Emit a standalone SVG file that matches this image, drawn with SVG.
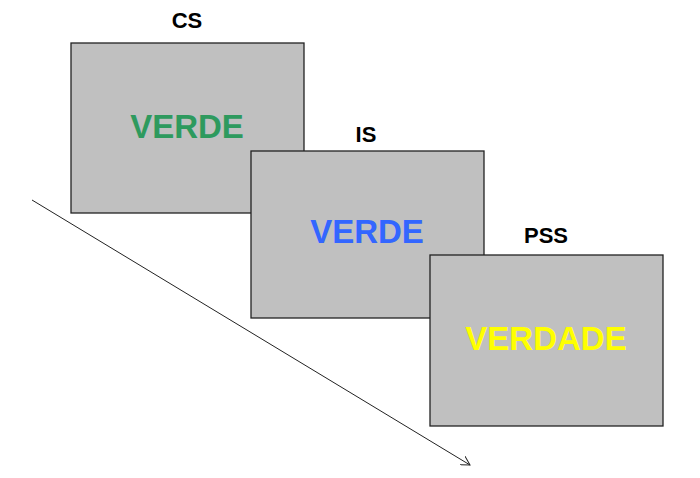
<svg xmlns="http://www.w3.org/2000/svg" width="700" height="478" viewBox="0 0 700 478">
<defs>
<style>
.box{fill:#c0c0c0;stroke:#222;stroke-width:1.3}
.lbl{font-family:"Liberation Sans",Arial,sans-serif;font-weight:bold;font-size:22px;fill:#000;text-anchor:middle}
.word{font-family:"Liberation Sans",Arial,sans-serif;font-weight:bold;font-size:33px;text-anchor:middle}
</style>
<marker id="arr" viewBox="0 0 10 10" refX="9" refY="5" markerWidth="10" markerHeight="10" markerUnits="userSpaceOnUse" orient="auto">
<path d="M0,0 L9,5 L0,10" fill="none" stroke="#222" stroke-width="1"/>
</marker>
</defs>
<rect width="700" height="478" fill="#fff"/>
<g id="connectors">
<line x1="32" y1="200" x2="470" y2="465" stroke="#222" stroke-width="1" marker-end="url(#arr)"/>
</g>
<g id="cs">
<text class="lbl" x="187" y="28">CS</text>
<rect class="box" x="71" y="43" width="233" height="170"/>
<text class="word" x="187" y="138" fill="#2e9a5e">VERDE</text>
</g>
<g id="is">
<text class="lbl" x="366" y="142">IS</text>
<rect class="box" x="251" y="151" width="233" height="167"/>
<text class="word" x="367" y="243" fill="#3366ff">VERDE</text>
</g>
<g id="pss">
<text class="lbl" x="546" y="243">PSS</text>
<rect class="box" x="430" y="255" width="233" height="171"/>
<text class="word" x="546" y="350" fill="#ffff00">VERDADE</text>
</g>
</svg>
